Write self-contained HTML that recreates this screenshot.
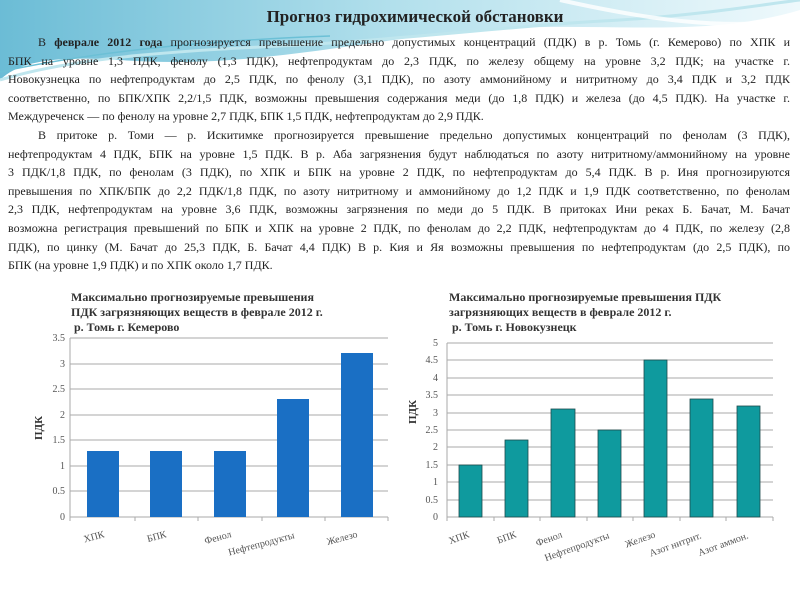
<!DOCTYPE html>
<html><head><meta charset="utf-8"><style>
body{margin:0;width:800px;height:600px;position:relative;background:#fff;overflow:hidden;font-family:"Liberation Serif","Noto Serif CJK SC",serif;}
.l{position:absolute;left:8px;width:782px;font-size:12px;line-height:14px;text-align:justify;text-align-last:justify;white-space:nowrap;color:#222;}
.e{text-align-last:left;}
.t{position:absolute;font-family:"Liberation Serif",serif;font-weight:bold;color:#222;}
</style></head><body>
<svg width="800" height="600" style="position:absolute;left:0;top:0">
<defs><linearGradient id="g" x1="0" y1="0" x2="1" y2="0"><stop offset="0" stop-color="#3aa6c8"/><stop offset="0.5" stop-color="#9ad6e6"/><stop offset="1" stop-color="#e9f7fb"/></linearGradient></defs>
<path d="M0 0 H800 V10 C700 40 600 20 480 30 C360 40 250 70 120 60 C60 56 20 60 0 80 Z" fill="url(#g)" opacity="0.75"/>
<path d="M0 80 C80 55 200 50 300 45 C420 38 520 25 620 20 C700 15 760 5 800 0" fill="none" stroke="#bfe6ee" stroke-width="3"/>
<path d="M0 72 C100 50 220 40 330 36" fill="none" stroke="#6cc0d6" stroke-width="1.5"/>
<path d="M560 0 C650 20 720 30 800 20" fill="none" stroke="#fff" stroke-width="4" opacity="0.8"/>
</svg>
<div class="t" style="left:0;width:830px;text-align:center;top:7px;font-size:17px;">Прогноз гидрохимической обстановки</div>
<div class="l" style="top:35px;padding-left:30px;width:752px;">В <b>феврале 2012 года</b> прогнозируется превышение предельно допустимых концентраций (ПДК) в р. Томь (г. Кемерово) по ХПК и</div>
<div class="l" style="top:54px;">БПК на уровне 1,3 ПДК, фенолу (1,3 ПДК), нефтепродуктам до 2,3 ПДК, по железу общему на уровне 3,2 ПДК; на участке г.</div>
<div class="l" style="top:72px;">Новокузнецка по нефтепродуктам до 2,5 ПДК, по фенолу (3,1 ПДК), по азоту аммонийному и нитритному до 3,4 ПДК и 3,2 ПДК</div>
<div class="l" style="top:91px;">соответственно, по БПК/ХПК 2,2/1,5 ПДК, возможны превышения содержания меди (до 1,8 ПДК) и железа (до 4,5 ПДК). На участке г.</div>
<div class="l e" style="top:109px;">Междуреченск — по фенолу на уровне 2,7 ПДК, БПК 1,5 ПДК, нефтепродуктам до 2,9 ПДК.</div>
<div class="l" style="top:128px;padding-left:30px;width:752px;">В притоке р. Томи — р. Искитимке прогнозируется превышение предельно допустимых концентраций по фенолам (3 ПДК),</div>
<div class="l" style="top:147px;">нефтепродуктам 4 ПДК, БПК на уровне 1,5 ПДК. В р. Аба загрязнения будут наблюдаться по азоту нитритному/аммонийному на уровне</div>
<div class="l" style="top:165px;">3 ПДК/1,8 ПДК, по фенолам (3 ПДК), по ХПК и БПК на уровне 2 ПДК, по нефтепродуктам до 5,4 ПДК. В р. Иня прогнозируются</div>
<div class="l" style="top:184px;">превышения по ХПК/БПК до 2,2 ПДК/1,8 ПДК, по азоту нитритному и аммонийному до 1,2 ПДК и 1,9 ПДК соответственно, по фенолам</div>
<div class="l" style="top:202px;">2,3 ПДК, нефтепродуктам на уровне 3,6 ПДК, возможны загрязнения по меди до 5 ПДК. В притоках Ини реках Б. Бачат, М. Бачат</div>
<div class="l" style="top:221px;">возможна регистрация превышений по БПК и ХПК на уровне 2 ПДК, по фенолам до 2,2 ПДК, нефтепродуктам до 4 ПДК, по железу (2,8</div>
<div class="l" style="top:240px;">ПДК), по цинку (М. Бачат до 25,3 ПДК, Б. Бачат 4,4 ПДК) В р. Кия и Яя возможны превышения по нефтепродуктам (до 2,5 ПДК), по</div>
<div class="l e" style="top:258px;">БПК (на уровне 1,9 ПДК) и по ХПК около 1,7 ПДК.</div>

<div class="t" style="left:71px;top:290px;font-size:12px;line-height:15px;color:#333">Максимально прогнозируемые превышения<br>ПДК загрязняющих веществ в феврале 2012 г.<br>&nbsp;р. Томь г. Кемерово</div>
<div class="t" style="left:449px;top:290px;font-size:12px;line-height:15px;color:#333">Максимально прогнозируемые превышения ПДК<br>загрязняющих веществ в феврале 2012 г.<br>&nbsp;р. Томь г. Новокузнецк</div>

<svg width="800" height="600" style="position:absolute;left:0;top:0" font-family="Liberation Serif, serif" font-size="10" fill="#555">
<g stroke="#aaa" stroke-width="1">
<line x1="70" y1="338" x2="388" y2="338"/><line x1="70" y1="364" x2="388" y2="364"/><line x1="70" y1="389" x2="388" y2="389"/><line x1="70" y1="415" x2="388" y2="415"/><line x1="70" y1="440" x2="388" y2="440"/><line x1="70" y1="466" x2="388" y2="466"/><line x1="70" y1="491" x2="388" y2="491"/>
<line x1="70" y1="338" x2="70" y2="521"/><line x1="70" y1="517" x2="388" y2="517"/>
<line x1="135" y1="517" x2="135" y2="521"/><line x1="198" y1="517" x2="198" y2="521"/><line x1="262" y1="517" x2="262" y2="521"/><line x1="325" y1="517" x2="325" y2="521"/><line x1="388" y1="517" x2="388" y2="521"/>
</g>
<g fill="#1a6fc4">
<rect x="87" y="451" width="32" height="66"/><rect x="150" y="451" width="32" height="66"/><rect x="214" y="451" width="32" height="66"/><rect x="277" y="399" width="32" height="118"/><rect x="341" y="353" width="32" height="164"/>
</g>
<g text-anchor="end"><text x="65" y="341">3.5</text><text x="65" y="367">3</text><text x="65" y="392">2.5</text><text x="65" y="418">2</text><text x="65" y="443">1.5</text><text x="65" y="469">1</text><text x="65" y="494">0.5</text><text x="65" y="520">0</text></g>
<text transform="translate(42,428) rotate(-90)" font-weight="bold" font-size="11" fill="#333" text-anchor="middle">ПДК</text>
<g text-anchor="end">
<text transform="translate(105,537) rotate(-15)">ХПК</text>
<text transform="translate(167,537) rotate(-15)">БПК</text>
<text transform="translate(232,537) rotate(-15)">Фенол</text>
<text transform="translate(295,538) rotate(-15)">Нефтепродукты</text>
<text transform="translate(358,537) rotate(-15)">Железо</text>
</g>

<g stroke="#aaa" stroke-width="1">
<line x1="447" y1="343" x2="773" y2="343"/><line x1="447" y1="360" x2="773" y2="360"/><line x1="447" y1="378" x2="773" y2="378"/><line x1="447" y1="395" x2="773" y2="395"/><line x1="447" y1="413" x2="773" y2="413"/><line x1="447" y1="430" x2="773" y2="430"/><line x1="447" y1="447" x2="773" y2="447"/><line x1="447" y1="465" x2="773" y2="465"/><line x1="447" y1="482" x2="773" y2="482"/><line x1="447" y1="500" x2="773" y2="500"/>
<line x1="447" y1="343" x2="447" y2="521"/><line x1="447" y1="517" x2="773" y2="517"/>
<line x1="494" y1="517" x2="494" y2="521"/><line x1="540" y1="517" x2="540" y2="521"/><line x1="587" y1="517" x2="587" y2="521"/><line x1="633" y1="517" x2="633" y2="521"/><line x1="680" y1="517" x2="680" y2="521"/><line x1="726" y1="517" x2="726" y2="521"/><line x1="773" y1="517" x2="773" y2="521"/>
</g>
<g fill="#0f9a9e" stroke="#1d4a4c" stroke-width="0.8">
<rect x="459" y="465" width="23" height="52"/><rect x="505" y="440" width="23" height="77"/><rect x="551" y="409" width="24" height="108"/><rect x="598" y="430" width="23" height="87"/><rect x="644" y="360" width="23" height="157"/><rect x="690" y="399" width="23" height="118"/><rect x="737" y="406" width="23" height="111"/>
</g>
<g text-anchor="end"><text x="438" y="346">5</text><text x="438" y="363">4.5</text><text x="438" y="381">4</text><text x="438" y="398">3.5</text><text x="438" y="416">3</text><text x="438" y="433">2.5</text><text x="438" y="450">2</text><text x="438" y="468">1.5</text><text x="438" y="485">1</text><text x="438" y="503">0.5</text><text x="438" y="520">0</text></g>
<text transform="translate(416,412) rotate(-90)" font-weight="bold" font-size="11" fill="#333" text-anchor="middle">ПДК</text>
<g text-anchor="end">
<text transform="translate(470,537) rotate(-20)">ХПК</text>
<text transform="translate(517,537) rotate(-20)">БПК</text>
<text transform="translate(563,537) rotate(-20)">Фенол</text>
<text transform="translate(610,538) rotate(-20)">Нефтепродукты</text>
<text transform="translate(656,537) rotate(-20)">Железо</text>
<text transform="translate(702,538) rotate(-20)">Азот нитрит.</text>
<text transform="translate(749,538) rotate(-20)">Азот аммон.</text>
</g>
</svg>
</body></html>
